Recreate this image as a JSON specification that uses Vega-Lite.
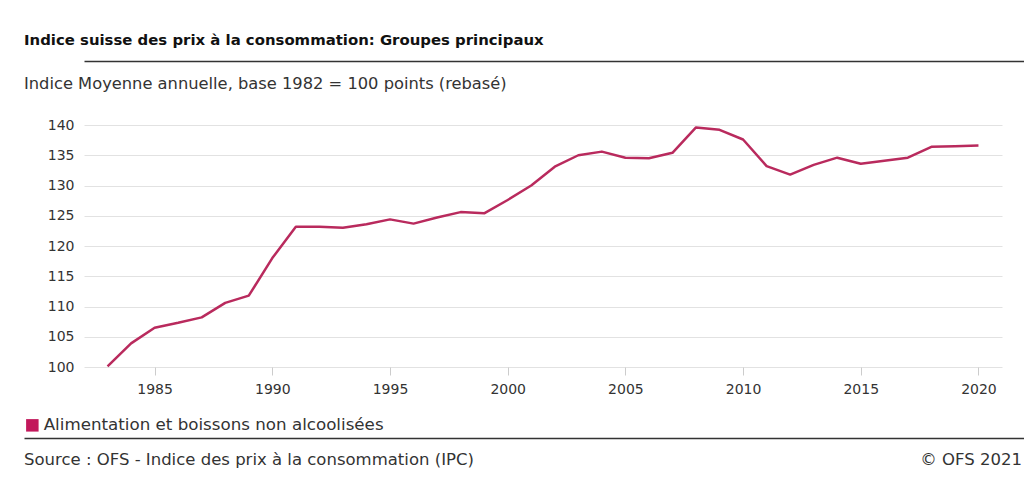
{
  "$schema": "https://vega.github.io/schema/vega-lite/v6.json",
  "background": "white",
  "padding": {"left": 24, "top": 32, "right": 0, "bottom": 0},
  "autosize": {"type": "pad"},
  "config": {
    "view": {"stroke": null},
    "font": "DejaVu Sans"
  },
  "title": {
    "text": "Indice suisse des prix à la consommation: Groupes principaux",
    "anchor": "start",
    "frame": "bounds",
    "font": "DejaVu Sans",
    "fontSize": 14.9,
    "fontWeight": "bold",
    "color": "#111111",
    "offset": 12.5
  },
  "resolve": {"legend": {"color": "independent"}},
  "columns": 1,
  "align": "none",
  "spacing": 3,
  "concat": [
    {
      "width": 1000,
      "height": 10.5,
      "data": {"values": [{}]},
      "mark": {"type": "text"},
      "encoding": {
        "text": {"value": ""},
        "x": {
          "datum": 0,
          "type": "quantitative",
          "scale": {"domain": [0, 1]},
          "axis": {"orient": "top", "title": null, "labels": false, "ticks": false, "grid": false, "domain": true, "domainColor": "#333333", "domainWidth": 1.3}
        }
      }
    },
    {
      "width": 918,
      "height": 242,
      "title": {
        "text": "Indice Moyenne annuelle, base 1982 = 100 points (rebasé)",
        "anchor": "start",
        "frame": "bounds",
        "font": "DejaVu Sans",
        "fontSize": 16.3,
        "fontWeight": "normal",
        "color": "#333333",
        "offset": 26
      },
      "data": {
        "values": [
          {"annee": 1983, "indice": 100.1, "serie": "Alimentation et boissons non alcoolisées"},
          {"annee": 1984, "indice": 103.9, "serie": "Alimentation et boissons non alcoolisées"},
          {"annee": 1985, "indice": 106.5, "serie": "Alimentation et boissons non alcoolisées"},
          {"annee": 1986, "indice": 107.3, "serie": "Alimentation et boissons non alcoolisées"},
          {"annee": 1987, "indice": 108.2, "serie": "Alimentation et boissons non alcoolisées"},
          {"annee": 1988, "indice": 110.6, "serie": "Alimentation et boissons non alcoolisées"},
          {"annee": 1989, "indice": 111.8, "serie": "Alimentation et boissons non alcoolisées"},
          {"annee": 1990, "indice": 118.0, "serie": "Alimentation et boissons non alcoolisées"},
          {"annee": 1991, "indice": 123.2, "serie": "Alimentation et boissons non alcoolisées"},
          {"annee": 1992, "indice": 123.2, "serie": "Alimentation et boissons non alcoolisées"},
          {"annee": 1993, "indice": 123.0, "serie": "Alimentation et boissons non alcoolisées"},
          {"annee": 1994, "indice": 123.6, "serie": "Alimentation et boissons non alcoolisées"},
          {"annee": 1995, "indice": 124.4, "serie": "Alimentation et boissons non alcoolisées"},
          {"annee": 1996, "indice": 123.7, "serie": "Alimentation et boissons non alcoolisées"},
          {"annee": 1997, "indice": 124.7, "serie": "Alimentation et boissons non alcoolisées"},
          {"annee": 1998, "indice": 125.6, "serie": "Alimentation et boissons non alcoolisées"},
          {"annee": 1999, "indice": 125.4, "serie": "Alimentation et boissons non alcoolisées"},
          {"annee": 2000, "indice": 127.6, "serie": "Alimentation et boissons non alcoolisées"},
          {"annee": 2001, "indice": 130.0, "serie": "Alimentation et boissons non alcoolisées"},
          {"annee": 2002, "indice": 133.1, "serie": "Alimentation et boissons non alcoolisées"},
          {"annee": 2003, "indice": 135.0, "serie": "Alimentation et boissons non alcoolisées"},
          {"annee": 2004, "indice": 135.6, "serie": "Alimentation et boissons non alcoolisées"},
          {"annee": 2005, "indice": 134.6, "serie": "Alimentation et boissons non alcoolisées"},
          {"annee": 2006, "indice": 134.5, "serie": "Alimentation et boissons non alcoolisées"},
          {"annee": 2007, "indice": 135.4, "serie": "Alimentation et boissons non alcoolisées"},
          {"annee": 2008, "indice": 139.6, "serie": "Alimentation et boissons non alcoolisées"},
          {"annee": 2009, "indice": 139.2, "serie": "Alimentation et boissons non alcoolisées"},
          {"annee": 2010, "indice": 137.6, "serie": "Alimentation et boissons non alcoolisées"},
          {"annee": 2011, "indice": 133.2, "serie": "Alimentation et boissons non alcoolisées"},
          {"annee": 2012, "indice": 131.8, "serie": "Alimentation et boissons non alcoolisées"},
          {"annee": 2013, "indice": 133.4, "serie": "Alimentation et boissons non alcoolisées"},
          {"annee": 2014, "indice": 134.6, "serie": "Alimentation et boissons non alcoolisées"},
          {"annee": 2015, "indice": 133.6, "serie": "Alimentation et boissons non alcoolisées"},
          {"annee": 2016, "indice": 134.1, "serie": "Alimentation et boissons non alcoolisées"},
          {"annee": 2017, "indice": 134.6, "serie": "Alimentation et boissons non alcoolisées"},
          {"annee": 2018, "indice": 136.4, "serie": "Alimentation et boissons non alcoolisées"},
          {"annee": 2019, "indice": 136.5, "serie": "Alimentation et boissons non alcoolisées"},
          {"annee": 2020, "indice": 136.6, "serie": "Alimentation et boissons non alcoolisées"}
        ]
      },
      "mark": {"type": "line", "strokeWidth": 2.5, "strokeJoin": "round"},
      "encoding": {
        "x": {
          "field": "annee",
          "type": "quantitative",
          "scale": {"domain": [1982, 2021], "nice": false, "zero": false},
          "axis": {
            "title": null,
            "values": [1985, 1990, 1995, 2000, 2005, 2010, 2015, 2020],
            "format": "d",
            "domain": false,
            "grid": false,
            "ticks": true,
            "tickColor": "#cccccc",
            "tickSize": 8,
            "labelFont": "DejaVu Sans",
            "labelFontSize": 14,
            "labelColor": "#333333",
            "labelPadding": 7
          }
        },
        "y": {
          "field": "indice",
          "type": "quantitative",
          "scale": {"domain": [100, 140], "nice": false, "zero": false},
          "axis": {
            "title": null,
            "values": [100, 105, 110, 115, 120, 125, 130, 135, 140],
            "domain": false,
            "ticks": false,
            "grid": true,
            "gridColor": "#e2e2e2",
            "gridWidth": 1,
            "labelFont": "DejaVu Sans",
            "labelFontSize": 14,
            "labelColor": "#333333",
            "labelPadding": 10,
            "minExtent": 60
          }
        },
        "color": {
          "field": "serie",
          "type": "nominal",
          "scale": {"range": ["#b92a5d"]},
          "legend": {
            "title": null,
            "orient": "none",
            "legendX": -60,
            "legendY": 292,
            "padding": 0,
            "symbolType": "square",
            "symbolSize": 156,
            "symbolStrokeWidth": 0,
            "labelFont": "DejaVu Sans",
            "labelFontSize": 16.7,
            "labelColor": "#333333",
            "labelOffset": 3,
            "labelLimit": 600,
            "encode": {"symbols": {"update": {"fill": {"value": "#c2185b"}, "fillOpacity": {"value": 1}, "strokeWidth": {"value": 0}}}}
          }
        }
      }
    },
    {
      "width": 940,
      "height": 43,
      "data": {"values": [{"source": "Source : OFS - Indice des prix à la consommation (IPC)", "copyright": "© OFS 2021"}]},
      "layer": [
        {
          "mark": {"type": "text", "align": "left", "baseline": "middle", "font": "DejaVu Sans", "fontSize": 16.5, "color": "#333333"},
          "encoding": {
            "text": {"field": "source"},
            "x": {
              "datum": 0,
              "type": "quantitative",
              "scale": {"domain": [0, 1], "range": [-60, 940]},
              "axis": {"orient": "top", "title": null, "labels": false, "ticks": false, "grid": false, "domain": true, "domainColor": "#333333", "domainWidth": 1.3}
            }
          }
        },
        {
          "mark": {"type": "text", "align": "right", "baseline": "middle", "dx": -2, "font": "DejaVu Sans", "fontSize": 16.5, "color": "#333333"},
          "encoding": {"text": {"field": "copyright"}, "x": {"datum": 1, "type": "quantitative"}}
        }
      ]
    }
  ]
}
